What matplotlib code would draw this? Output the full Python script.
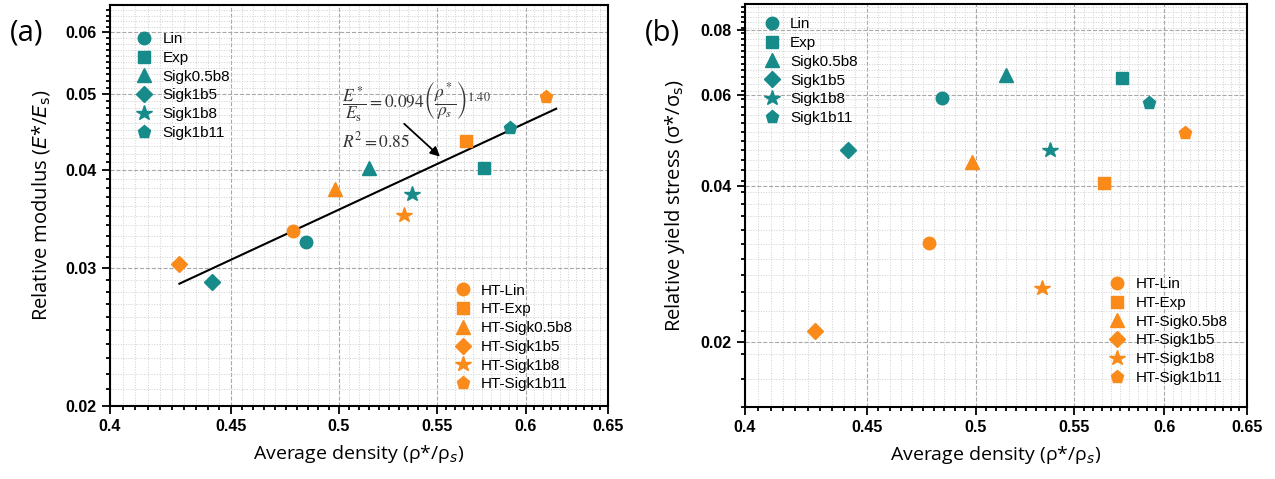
import numpy as np
import matplotlib.pyplot as plt
from matplotlib.ticker import FixedLocator, FixedFormatter, NullFormatter

# colours of the two groups
teal = '#178a8a'
orange = '#fa8a1a'

names = ['Lin', 'Exp', 'Sigk0.5b8', 'Sigk1b5', 'Sigk1b8', 'Sigk1b11']
names_ht = ['HT-' + n for n in names]
markers = ['o', 's', '^', 'D', '*', 'p']
msizes = [9, 8, 10, 8, 11.5, 9.5]

# average density of each sample
dens = [0.484, 0.576, 0.515, 0.442, 0.537, 0.591]
dens_ht = [0.478, 0.566, 0.498, 0.428, 0.533, 0.612]

# relative modulus E*/Es
mod = [0.0324, 0.0403, 0.0402, 0.0288, 0.0373, 0.0453]
mod_ht = [0.0335, 0.0436, 0.0378, 0.0304, 0.0351, 0.0496]

# relative yield stress
ys = [0.0592, 0.0647, 0.0657, 0.0471, 0.0471, 0.0579]
ys_ht = [0.0311, 0.0406, 0.0446, 0.0210, 0.0255, 0.0507]

# power-law fit shown in (a)
fit_x = [0.428, 0.618]
fit_a, fit_n = 0.094, 1.40

x_ticks = [0.4, 0.45, 0.5, 0.55, 0.6, 0.65]
x_labels = ['0.4', '0.45', '0.5', '0.55', '0.6', '0.65']
ya_ticks = [0.02, 0.03, 0.04, 0.05, 0.06]
ya_labels = ['0.02', '0.03', '0.04', '0.05', '0.06']
yb_ticks = [0.02, 0.04, 0.06, 0.08]
yb_labels = ['0.02', '0.04', '0.06', '0.08']

plt.rcParams['font.family'] = ['Liberation Sans', 'DejaVu Sans']

fig = plt.figure(figsize=(12.75, 4.79), dpi=100)
ax1 = fig.add_axes([110 / 1275, 73 / 479, 498 / 1275, 401 / 479])
ax2 = fig.add_axes([745 / 1275, 72 / 479, 502 / 1275, 403 / 479])


def style_axes(ax, yt, yl, ymin, ymax, ystep):
    ax.set_xscale('log')
    ax.set_yscale('log')
    ax.set_xlim(0.4, 0.65)
    ax.set_ylim(ymin, ymax)
    ax.xaxis.set_major_locator(FixedLocator(x_ticks))
    ax.xaxis.set_major_formatter(FixedFormatter(x_labels))
    ax.xaxis.set_minor_locator(FixedLocator(np.arange(0.405, 0.65, 0.005)))
    ax.xaxis.set_minor_formatter(NullFormatter())
    ax.yaxis.set_major_locator(FixedLocator(yt))
    ax.yaxis.set_major_formatter(FixedFormatter(yl))
    ax.yaxis.set_minor_locator(FixedLocator(np.arange(ymin, ymax, ystep)))
    ax.yaxis.set_minor_formatter(NullFormatter())
    ax.grid(which='major', ls='--', color='#a8a8a8', lw=0.8)
    ax.grid(which='minor', ls=':', color='#cfcfcf', lw=0.7)
    ax.set_axisbelow(True)
    for s in ax.spines.values():
        s.set_linewidth(1.5)
    ax.tick_params(which='both', direction='out', top=False, right=False, width=1.3)
    ax.tick_params(which='major', length=6, labelsize=11.5)
    ax.tick_params(which='minor', length=3)
    for lab in ax.get_xticklabels() + ax.get_yticklabels():
        lab.set_fontweight('bold')


def draw_points(ax, xs, yv, xs_ht, yv_ht):
    h1, h2 = [], []
    for i in range(len(names)):
        l, = ax.plot(xs[i], yv[i], ls='none', marker=markers[i], ms=msizes[i],
                     color=teal, label=names[i])
        h1.append(l)
    for i in range(len(names)):
        l, = ax.plot(xs_ht[i], yv_ht[i], ls='none', marker=markers[i], ms=msizes[i],
                     color=orange, label=names_ht[i])
        h2.append(l)
    return h1, h2


def add_legends(ax, h1, h2, pos1, pos2):
    kw = dict(frameon=False, fontsize=11, borderpad=0, borderaxespad=0,
              handlelength=1.2, handletextpad=0.6, labelspacing=0.31, loc='upper left')
    leg1 = ax.legend(handles=h1, bbox_to_anchor=pos1, **kw)
    ax.add_artist(leg1)
    ax.legend(handles=h2, bbox_to_anchor=pos2, **kw)


# ---- (a) relative modulus ----
style_axes(ax1, ya_ticks, ya_labels, 0.02, 0.065, 0.001)
fx = np.array(fit_x)
ax1.plot(fx, fit_a * fx ** fit_n, color='black', lw=1.5, zorder=2)
h1, h2 = draw_points(ax1, dens, mod, dens_ht, mod_ht)
add_legends(ax1, h1, h2, (0.05, 0.932), (0.69, 0.305))

ax1.text(0.5015, 0.0489, r'$\dfrac{E^*}{E_\mathrm{s}} = 0.094\left(\dfrac{\rho^*}{\rho_s}\right)^{1.40}$',
         math_fontfamily='stix', fontsize=12.5, color='#333333', va='center', ha='left')
ax1.text(0.5015, 0.0437, r'$R^2 = 0.85$', math_fontfamily='stix', fontsize=12.5,
         color='#333333', va='center', ha='left')
ax1.annotate('', xy=(0.5529, 0.0414), xytext=(0.5318, 0.0461),
             arrowprops=dict(arrowstyle='-|>', color='black', lw=1.3, mutation_scale=14))

ax1.set_xlabel(r'Average density (ρ*/ρ$_\mathit{s}$)', family='Open Sans', fontsize=14,
               labelpad=6)
ax1.set_ylabel(r'Relative modulus ($\mathit{E}$*/$\mathit{E}_\mathrm{s}$)', family='Open Sans',
               fontsize=14.5, labelpad=10, math_fontfamily='dejavusans')
fig.text(27 / 1275, 1 - 33 / 479, '(a)', family='Open Sans', fontsize=21, ha='center', va='center')

# ---- (b) relative yield stress ----
style_axes(ax2, yb_ticks, yb_labels, 0.015, 0.09, 0.002)
h1, h2 = draw_points(ax2, dens, ys, dens_ht, ys_ht)
add_legends(ax2, h1, h2, (0.035, 0.967), (0.723, 0.322))

ax2.set_xlabel(r'Average density (ρ*/ρ$_\mathit{s}$)', family='Open Sans', fontsize=14,
               labelpad=6)
ax2.set_ylabel(r'Relative yield stress (σ*/σ$_\mathrm{s}$)', family='Open Sans',
               fontsize=14.5, labelpad=10)
fig.text(662 / 1275, 1 - 33 / 479, '(b)', family='Open Sans', fontsize=21, ha='center', va='center')

fig.savefig('out.png', dpi=100)
